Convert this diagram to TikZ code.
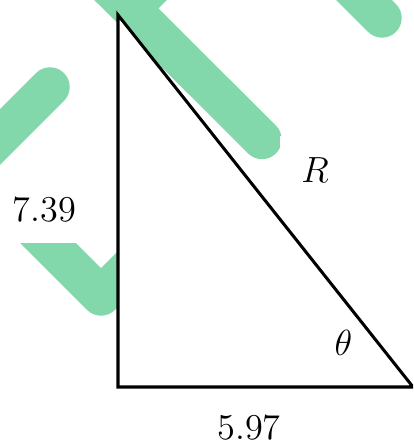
\documentclass[tikz,border=0pt]{standalone}
\usepackage{amsmath,amssymb}
\usetikzlibrary{calc}
\definecolor{tickgreen}{RGB}{130,216,170}

\begin{document}
\begin{tikzpicture}[x=0.33pt,y=-0.33pt,line cap=round,line join=round,
 tick/.style={tickgreen,line width=13pt},
 sidelabel/.style={fill=white,inner sep=7pt,font=\large}]
\clip (0,0) rectangle (413,443);
% green ticks lying behind the figure
\foreach \xa/\ya/\xb/\yb in {80/-42/262/139.5,131/8/175/-36,330/-34/382/18,-60/197/50/87}
 \draw[tick] (\xa,\ya)--(\xb,\yb);
\draw[tick] (20,215)--(101,296)--(170,227);
\coordinate (top) at (118,15);
\coordinate (corner) at (118,387);
\coordinate (tip) at (413,387);
\filldraw[fill=white,line width=1pt,line join=miter] (top)--(corner)--(tip)--cycle;
\node[sidelabel] (height) at (44.5,209.5) {7.39};
\node[sidelabel] (base) at (249,427.5) {5.97};
\node[sidelabel] (hyp) at (315,170) {$R$};
\node[font=\large] (angle) at (343.5,342.5) {$\theta$};
\end{tikzpicture}
\end{document}
